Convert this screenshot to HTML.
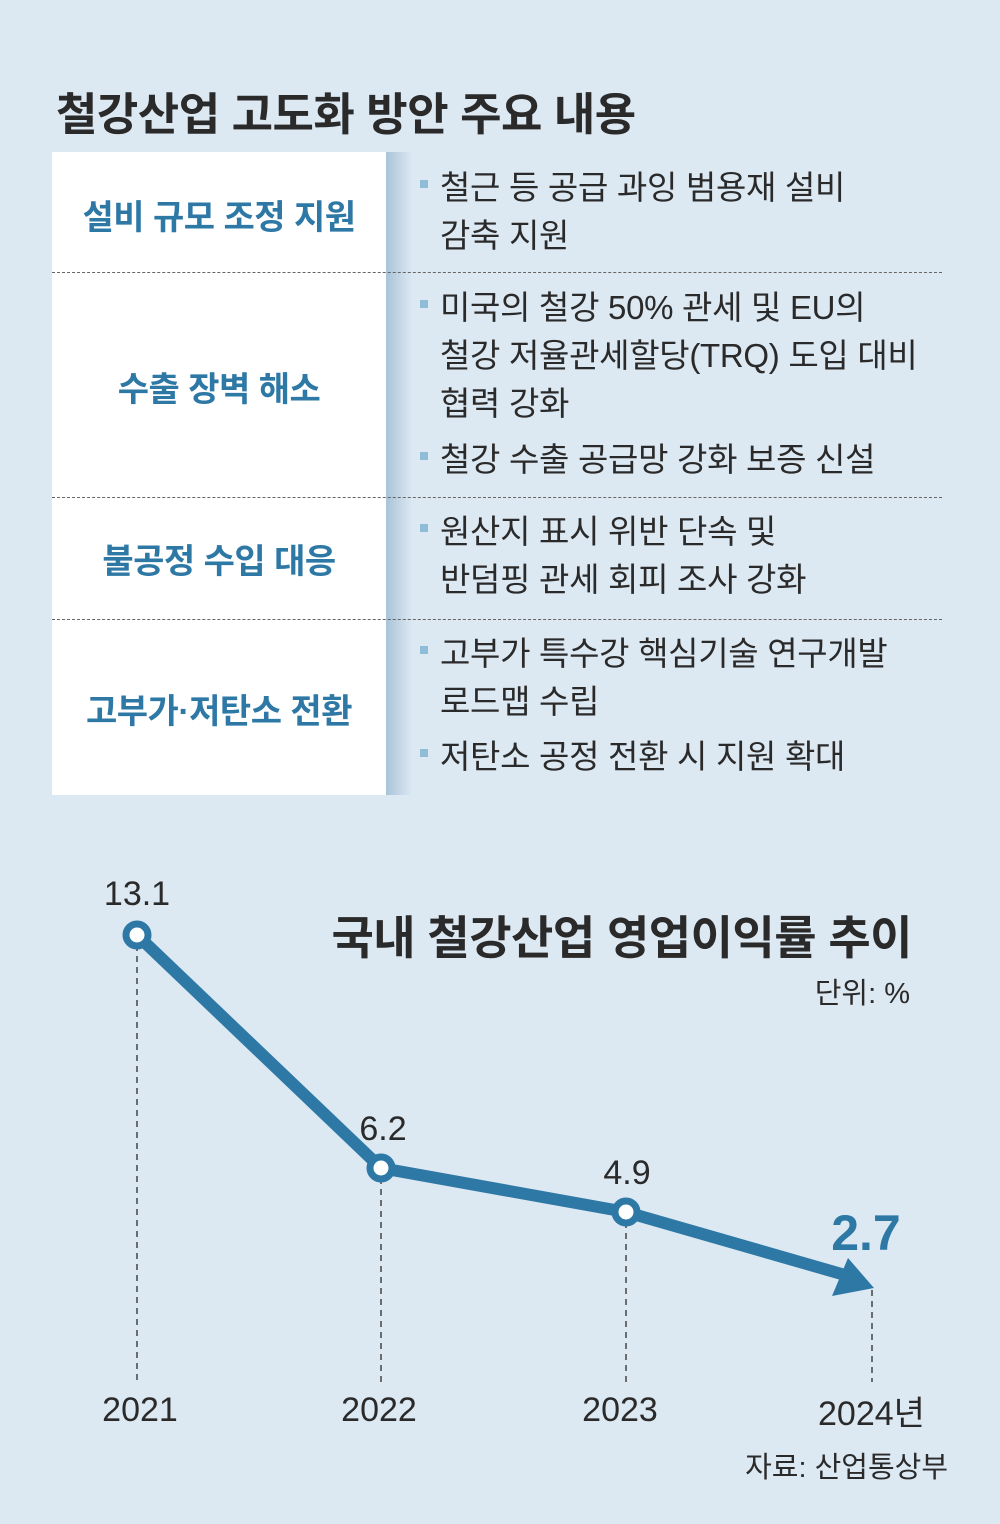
<!DOCTYPE html>
<html><head><meta charset="utf-8"><style>
body{margin:0;width:1000px;height:1524px;background:#dce8f2;font-family:"Liberation Sans","Noto Sans CJK KR",sans-serif;position:relative;overflow:hidden;color:#2a2a2a}
.a{position:absolute;white-space:nowrap}
.h{font-size:45px;font-weight:bold;color:#2a2a2a;letter-spacing:-0.5px}
.left{position:absolute;left:52px;top:152px;width:334px;height:643px;background:#fff}
.shade{position:absolute;left:386px;top:152px;width:26px;height:643px;background:linear-gradient(90deg,#a9c3d8,#dce8f2)}
.lab{position:absolute;left:52px;width:334px;text-align:center;font-size:34px;font-weight:bold;color:#2e78a6;letter-spacing:-0.5px}
.dash{position:absolute;left:52px;width:890px;border-top:1.5px dashed #666}
.it{position:absolute;left:420px;font-size:33px;line-height:48px;color:#2a2a2a;letter-spacing:-0.3px}
.it b{display:inline-block;width:8px;height:8px;background:#8fbcd6;margin-right:12px;vertical-align:middle;position:relative;top:-6px}
.it span{padding-left:20px}
</style></head><body>
<div class="a h" style="left:56px;top:78px">철강산업 고도화 방안 주요 내용</div>
<div class="left"></div><div class="shade"></div>
<div class="lab" style="top:190px">설비 규모 조정 지원</div>
<div class="lab" style="top:362px">수출 장벽 해소</div>
<div class="lab" style="top:534px">불공정 수입 대응</div>
<div class="lab" style="top:684px">고부가·저탄소 전환</div>
<div class="dash" style="top:272px"></div>
<div class="dash" style="top:497px"></div>
<div class="dash" style="top:619px"></div>
<div class="it" style="top:164px"><b></b>철근 등 공급 과잉 범용재 설비<br><span>감축 지원</span></div>
<div class="it" style="top:284px"><b></b>미국의 철강 50% 관세 및 EU의<br><span>철강 저율관세할당(TRQ) 도입 대비</span><br><span>협력 강화</span></div>
<div class="it" style="top:436px"><b></b>철강 수출 공급망 강화 보증 신설</div>
<div class="it" style="top:508px"><b></b>원산지 표시 위반 단속 및<br><span>반덤핑 관세 회피 조사 강화</span></div>
<div class="it" style="top:630px"><b></b>고부가 특수강 핵심기술 연구개발<br><span>로드맵 수립</span></div>
<div class="it" style="top:733px"><b></b>저탄소 공정 전환 시 지원 확대</div>

<svg class="a" style="left:0;top:0" width="1000" height="1524">
<g stroke="#444" stroke-width="1.5" stroke-dasharray="6,5">
<line x1="137" y1="945" x2="137" y2="1382"/>
<line x1="381" y1="1178" x2="381" y2="1382"/>
<line x1="626" y1="1222" x2="626" y2="1382"/>
<line x1="872" y1="1290" x2="872" y2="1382"/>
</g>
<polyline points="137,935 381,1168 626,1212 845,1275" fill="none" stroke="#2e78a6" stroke-width="12" stroke-linejoin="round"/>
<polygon points="874,1288 832,1296 848,1258" fill="#2e78a6"/>
<g fill="#fff" stroke="#2e78a6" stroke-width="7">
<circle cx="137" cy="935" r="11"/><circle cx="381" cy="1168" r="11"/><circle cx="626" cy="1212" r="11"/>
</g>
<g font-family="Liberation Sans, sans-serif" font-size="34" fill="#2a2a2a" text-anchor="middle">
<text x="137" y="905">13.1</text><text x="383" y="1140">6.2</text><text x="627" y="1184">4.9</text>
<text x="140" y="1421">2021</text><text x="379" y="1421">2022</text><text x="620" y="1421">2023</text>
</g>
<text x="866" y="1250" font-family="Liberation Sans, sans-serif" font-size="50" font-weight="bold" fill="#2e78a6" text-anchor="middle">2.7</text>
</svg>
<div class="a" style="left:818px;top:1386px;font-size:34px">2024년</div>
<div class="a h" style="right:88px;top:902px;font-size:46px">국내 철강산업 영업이익률 추이</div>
<div class="a" style="right:90px;top:970px;font-size:29px">단위: %</div>
<div class="a" style="right:52px;top:1444px;font-size:29px">자료: 산업통상부</div>
</body></html>
